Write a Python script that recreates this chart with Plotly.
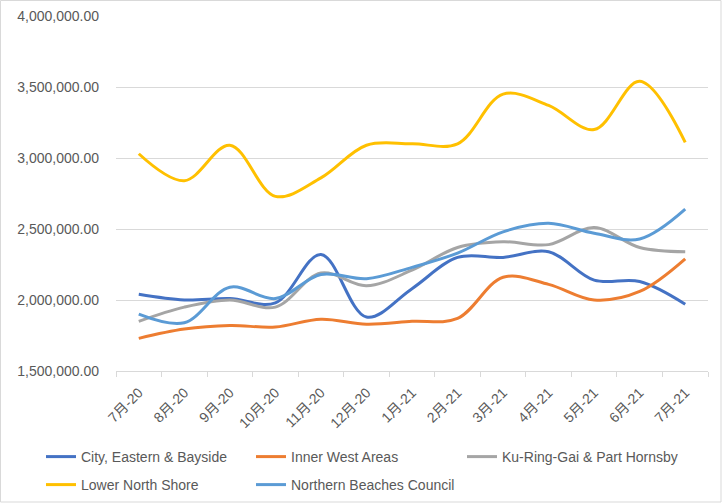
import plotly.graph_objects as go

categories = ["7月-20", "8月-20", "9月-20", "10月-20", "11月-20", "12月-20",
              "1月-21", "2月-21", "3月-21", "4月-21", "5月-21", "6月-21", "7月-21"]

city_eastern_bayside = [2040000, 2000000, 2010000, 1980000, 2320000, 1880000,
                        2080000, 2300000, 2300000, 2340000, 2140000, 2130000, 1970000]
inner_west = [1730000, 1795000, 1820000, 1810000, 1865000, 1830000,
              1850000, 1870000, 2160000, 2110000, 2000000, 2060000, 2290000]
ku_ring_gai = [1850000, 1950000, 2000000, 1950000, 2190000, 2100000,
               2210000, 2370000, 2410000, 2390000, 2510000, 2370000, 2340000]
lower_north_shore = [3030000, 2840000, 3090000, 2730000, 2860000, 3090000,
                     3100000, 3100000, 3450000, 3370000, 3200000, 3540000, 3110000]
northern_beaches = [1900000, 1840000, 2090000, 2010000, 2180000, 2150000,
                    2230000, 2330000, 2480000, 2540000, 2470000, 2430000, 2640000]

series_names = ["City, Eastern & Bayside", "Inner West Areas", "Ku-Ring-Gai & Part Hornsby",
                "Lower North Shore", "Northern Beaches Council"]
series_values = [city_eastern_bayside, inner_west, ku_ring_gai, lower_north_shore, northern_beaches]
series_colors = ["#4472C4", "#ED7D31", "#A5A5A5", "#FFC000", "#5B9BD5"]

L, R, T, B = 116, 16, 16, 133
W, H = 724, 504
pw, ph = W - L - R, H - T - B


def py(p):
    return (T + ph - p) / ph


def px(p):
    return (p - L) / pw


# legend slot positions in pixels (left, top) for each series
legend_slots = [(41, 441), (251, 441), (462, 441), (41, 469), (251, 469)]

fig = go.Figure()
legend_layouts = {}
for i, (name, vals, color) in enumerate(zip(series_names, series_values, series_colors)):
    lg = "legend" if i == 0 else f"legend{i + 1}"
    fig.add_trace(go.Scatter(
        x=categories, y=vals, name=name, mode="lines", legend=lg, showlegend=True,
        line=dict(color=color, width=3, shape="spline", smoothing=1),
    ))
    lx, ly = legend_slots[i]
    legend_layouts[lg] = dict(
        orientation="h", xanchor="left", yanchor="top",
        x=px(lx), y=py(ly), visible=True,
        font=dict(family="Liberation Sans, Arial", size=14, color="#595959"),
        itemwidth=30, bgcolor="rgba(0,0,0,0)",
    )

fig.update_layout(
    width=W, height=H, showlegend=True,
    margin=dict(l=L, r=R, t=T, b=B, autoexpand=False),
    paper_bgcolor="white", plot_bgcolor="white",
    font=dict(family="Liberation Sans, Arial, Noto Sans CJK SC", size=14, color="#595959"),
    xaxis=dict(
        type="category", range=[-0.5, 12.5], automargin=False,
        tickson="boundaries", ticks="outside", ticklen=5, tickcolor="#D9D9D9",
        showline=True, linecolor="#D9D9D9", linewidth=1,
        showgrid=False, tickangle=-45, ticklabelstandoff=7,
        tickfont=dict(family="Liberation Sans, Noto Sans CJK SC", size=14, color="#595959"),
    ),
    yaxis=dict(
        range=[1500000, 4000000], dtick=500000, tickformat=",.2f",
        automargin=False,
        showgrid=True, gridcolor="#D9D9D9", gridwidth=1,
        showline=False, zeroline=False, ticks="",
        ticklabelstandoff=16,
        tickfont=dict(family="Liberation Sans, Arial", size=14, color="#595959"),
    ),
    shapes=[dict(
        type="rect", xref="paper", yref="paper",
        x0=px(0.5), x1=px(721),
        y0=py(502), y1=py(0.5),
        line=dict(color="#D9D9D9", width=1), fillcolor="rgba(0,0,0,0)",
    )],
    **legend_layouts,
)

fig.write_html("out.html", config={"displayModeBar": False},
               post_script="document.body.style.margin='0';document.body.style.padding='0';")
